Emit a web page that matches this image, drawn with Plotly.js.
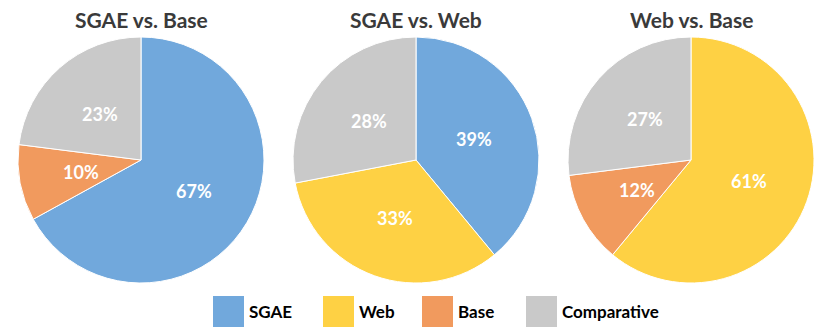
<!DOCTYPE html>
<html>
<head>
<meta charset="utf-8">
<script src="https://cdn.plot.ly/plotly-3.0.1.min.js"></script>
<style>
  html, body { margin: 0; padding: 0; background: #fff; }
  #chart { width: 830px; height: 333px; }
</style>
</head>
<body>
<div id="chart"></div>
<script>
// --- Data ---
const titles = ['SGAE vs. Base', 'SGAE vs. Web', 'Web vs. Base'];
const pieLabels = [
    ['SGAE', 'Base', 'Comparative'],
    ['SGAE', 'Web', 'Comparative'],
    ['Web', 'Base', 'Comparative']
];
const pieValues = [
    [67, 10, 23],
    [39, 33, 28],
    [61, 12, 27]
];
const legendItems = ['SGAE', 'Web', 'Base', 'Comparative'];

const colors = {
    SGAE: '#71A8DC',
    Web: '#FED144',
    Base: '#F19A5E',
    Comparative: '#C9C9C9'
};

const W = 830, H = 333;
const FONT = 'Lato, "Open Sans", sans-serif';

// pie boxes in pixels (left, right), shared top/bottom
const pieX = [[17, 265], [293, 539], [567, 815]];
const pieTop = 37, pieBottom = 283;

// --- Traces ---
const traces = pieValues.map((vals, i) => ({
    type: 'pie',
    labels: pieLabels[i],
    values: vals,
    sort: false,
    direction: 'clockwise',
    rotation: 0,
    marker: {
        colors: pieLabels[i].map(l => colors[l]),
        line: { color: '#fff', width: 1 }
    },
    textinfo: 'none',
    domain: {
        x: [pieX[i][0] / W, pieX[i][1] / W],
        y: [1 - pieBottom / H, 1 - pieTop / H]
    },
    hoverinfo: 'label+percent',
    showlegend: false
}));

const annotations = [];

// --- Percent labels, placed halfway out along each slice's bisector ---
pieValues.forEach((vals, i) => {
    const total = vals.reduce((a, b) => a + b, 0);
    const cx = (pieX[i][0] + pieX[i][1]) / 2;
    const cy = (pieTop + pieBottom) / 2;
    const R = Math.min(pieX[i][1] - pieX[i][0], pieBottom - pieTop) / 2;
    let acc = 0;
    vals.forEach(v => {
        const mid = (acc + v / 2) / total * 2 * Math.PI; // clockwise from 12 o'clock
        acc += v;
        const px = cx + 0.5 * R * Math.sin(mid);
        const py = cy - 0.5 * R * Math.cos(mid);
        annotations.push({
            text: '<b>' + Math.round(v / total * 100) + '%</b>',
            xref: 'paper', yref: 'paper',
            x: px / W, y: 1 - py / H,
            xanchor: 'center', yanchor: 'middle',
            showarrow: false,
            font: { family: FONT, size: 18, color: '#fff' }
        });
    });
});

// --- Titles ---
titles.forEach((t, i) => annotations.push({
    text: '<b>' + t + '</b>',
    xref: 'paper', yref: 'paper',
    x: (pieX[i][0] + pieX[i][1]) / 2 / W,
    y: 1 - 19 / H,
    xanchor: 'center', yanchor: 'middle',
    showarrow: false,
    font: { family: FONT, size: 21, color: '#3a3a3a' }
}));

// --- Custom legend (big square swatches) ---
const legendSwatchX = [213, 323, 422, 526];
const swatch = 31, legendMidY = 311.5;
const shapes = [];
legendItems.forEach((name, i) => {
    const x0 = legendSwatchX[i];
    shapes.push({
        type: 'rect', xref: 'paper', yref: 'paper',
        x0: x0 / W, x1: (x0 + swatch) / W,
        y0: 1 - (legendMidY + swatch / 2) / H, y1: 1 - (legendMidY - swatch / 2) / H,
        fillcolor: colors[name], line: { width: 0 }
    });
    annotations.push({
        text: '<b>' + name + '</b>',
        xref: 'paper', yref: 'paper',
        x: (x0 + swatch + 3) / W, y: 1 - legendMidY / H,
        xanchor: 'left', yanchor: 'middle',
        showarrow: false,
        font: { family: FONT, size: 17, color: '#000' }
    });
});

Plotly.newPlot('chart', traces, {
    width: W, height: H,
    margin: { l: 0, r: 0, t: 0, b: 0 },
    paper_bgcolor: '#fff',
    showlegend: false,
    annotations,
    shapes
}, { displayModeBar: false, staticPlot: true });
</script>
</body>
</html>
